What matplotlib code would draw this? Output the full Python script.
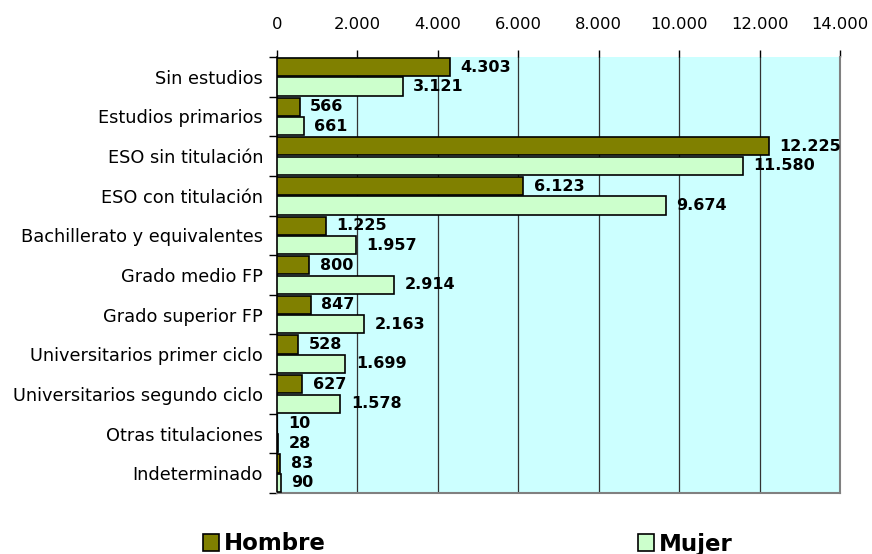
import matplotlib
matplotlib.use("Agg")
import matplotlib.pyplot as plt
from matplotlib.patches import Patch
import numpy as np

categories = ["Sin estudios", "Estudios primarios", "ESO sin titulación", "ESO con titulación",
              "Bachillerato y equivalentes", "Grado medio FP", "Grado superior FP",
              "Universitarios primer ciclo", "Universitarios segundo ciclo",
              "Otras titulaciones", "Indeterminado"]
hombre = [4303, 566, 12225, 6123, 1225, 800, 847, 528, 627, 10, 83]
mujer = [3121, 661, 11580, 9674, 1957, 2914, 2163, 1699, 1578, 28, 90]
xticks = [0, 2000, 4000, 6000, 8000, 10000, 12000, 14000]

def fmt(v):
    return f"{v:,}".replace(",", ".")

FONT = ["DejaVu Sans"]
plt.rcParams['font.family'] = FONT

fig = plt.figure(figsize=(8.72, 5.54), dpi=100)
ax = fig.add_axes([277/872, 1-493/554, (840-277)/872, (493-57)/554])
ax.set_facecolor("#CCFFFF")

y = np.arange(len(categories))
h = 0.46
off = 0.245
ax.barh(y - off, hombre, height=h, color="#808000", edgecolor="black", linewidth=1.2, zorder=3)
ax.barh(y + off, mujer, height=h, color="#CCFFCC", edgecolor="black", linewidth=1.2, zorder=3)

for yi, v in zip(y - off, hombre):
    ax.annotate(fmt(v), (v, yi), xytext=(7.5, 0), textcoords="offset points",
                va="center", ha="left", fontsize=11.5, fontweight="bold", zorder=4)
for yi, v in zip(y + off, mujer):
    ax.annotate(fmt(v), (v, yi), xytext=(7.5, 0), textcoords="offset points",
                va="center", ha="left", fontsize=11.5, fontweight="bold", zorder=4)

ax.set_xlim(0, 14000)
ax.set_ylim(len(categories) - 0.5, -0.5)
ax.xaxis.tick_top()
ax.set_xticks(xticks)
ax.set_xticklabels([fmt(t) for t in xticks], fontsize=11.8)
ax.tick_params(axis="x", direction="out", length=5, width=1, pad=13, color="black")
ax.grid(axis="x", color="#333333", linewidth=0.9, zorder=1)

ax.set_yticks(y)
ax.set_yticklabels(categories, fontsize=12.8)
ax.set_yticks(np.arange(-0.5, len(categories) + 0.5, 1), minor=True)
ax.tick_params(axis="y", which="major", length=0, pad=10)
ax.tick_params(axis="y", which="minor", length=6, width=1, direction="out", color="black")

ax.spines["top"].set_visible(False)
ax.spines["left"].set_color("black")
ax.spines["left"].set_linewidth(1.2)
ax.spines["right"].set_color("#808080")
ax.spines["bottom"].set_color("#808080")
ax.spines["right"].set_linewidth(1.5)
ax.spines["bottom"].set_linewidth(1.5)

legend_kw = dict(frameon=False, prop={"weight": "bold", "size": 16.5},
                 handlelength=0.7, handleheight=0.7, handletextpad=0.22,
                 borderpad=0, borderaxespad=0, loc="center left")
l1 = fig.legend([Patch(facecolor="#808000", edgecolor="black", linewidth=1.2)], ["Hombre"],
                bbox_to_anchor=(203/872, 1-544/554), **legend_kw)
l2 = fig.legend([Patch(facecolor="#CCFFCC", edgecolor="black", linewidth=1.2)], ["Mujer"],
                bbox_to_anchor=(638/872, 1-544/554), **legend_kw)

fig.savefig("out.png", dpi=100)
